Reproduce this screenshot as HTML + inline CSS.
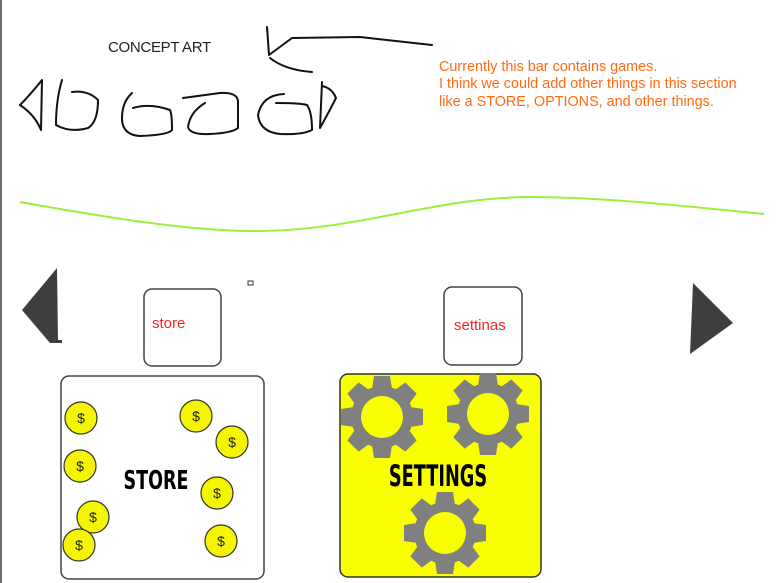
<!DOCTYPE html>
<html><head><meta charset="utf-8"><style>
html,body{margin:0;padding:0;background:#fff;width:782px;height:583px;overflow:hidden}
svg{display:block}
</style></head><body>
<svg width="782" height="583" viewBox="0 0 782 583" xmlns="http://www.w3.org/2000/svg">
<defs>
<g id="gear">
<g fill="#808080">
<circle r="31"/>
<path d="M-8 -41 L8 -41 L10 -28 L-10 -28 Z"/>
<path d="M-8 -41 L8 -41 L10 -28 L-10 -28 Z" transform="rotate(45)"/>
<path d="M-8 -41 L8 -41 L10 -28 L-10 -28 Z" transform="rotate(90)"/>
<path d="M-8 -41 L8 -41 L10 -28 L-10 -28 Z" transform="rotate(135)"/>
<path d="M-8 -41 L8 -41 L10 -28 L-10 -28 Z" transform="rotate(180)"/>
<path d="M-8 -41 L8 -41 L10 -28 L-10 -28 Z" transform="rotate(225)"/>
<path d="M-8 -41 L8 -41 L10 -28 L-10 -28 Z" transform="rotate(270)"/>
<path d="M-8 -41 L8 -41 L10 -28 L-10 -28 Z" transform="rotate(315)"/>
</g>
<circle r="21" fill="#f9ff00"/>
</g>
<g id="coin">
<circle r="16" fill="#f5f500" stroke="#333" stroke-width="1.2"/>
<text y="5" text-anchor="middle" font-family="Liberation Sans, sans-serif" font-size="14" fill="#222">$</text>
</g>
</defs>
<rect x="0" y="0" width="2" height="583" fill="#6c7078"/>
<text x="108" y="52" font-family="Liberation Sans, sans-serif" font-size="15" fill="#222" letter-spacing="-0.3">CONCEPT ART</text>
<g fill="none" stroke="#111" stroke-width="2" stroke-linecap="round" stroke-linejoin="round">
<path d="M267 27 L269 55 L292 38 L360 37 L432 45"/>
<path d="M270 58 Q285 70 312 72"/>
<path d="M42 80 Q30 95 20 105 Q35 115 41 130 L42 80"/>
<path d="M62 80 Q56 100 56 125 Q70 133 88 128 Q98 122 98 100 Q88 90 72 92"/>
<path d="M132 93 Q122 102 122 118 Q122 135 140 136 Q168 135 172 130 Q172 114 170 110 Q150 103 133 108"/>
<path d="M183 98 L220 93 Q238 92 238 102 L238 128 Q232 133 210 134 Q190 135 188 127 Q190 112 205 103"/>
<path d="M284 94 Q262 95 258 115 Q260 132 280 134 Q302 135 312 130 Q312 112 307 105 Q300 103 276 103"/>
<path d="M322 82 L320 128 Q330 110 336 98 Q332 88 322 86"/>
</g>
<text font-family="Liberation Sans, sans-serif" font-size="14.4" fill="#ff6a13">
<tspan x="439" y="71">Currently this bar contains games.</tspan>
<tspan x="439" y="88">I think we could add other things in this section</tspan>
<tspan x="439" y="106">like a STORE, OPTIONS, and other things.</tspan>
</text>
<path d="M20 202 C120 220 200 232 262 231 C360 230 440 196 535 197 C620 198 700 208 764 214" fill="none" stroke="#9bf03a" stroke-width="2"/>
<path d="M57 268 L58 340 L50 343 L22 310 Z" fill="#3e3e3e"/>
<rect x="50" y="340" width="12" height="3" fill="#3e3e3e"/>
<path d="M693 283 L733 323 L690 354 Z" fill="#3e3e3e"/>
<rect x="248" y="281" width="5" height="4" fill="#fff" stroke="#333" stroke-width="1"/>
<rect x="144" y="289" width="77" height="77" rx="8" fill="#fff" stroke="#444" stroke-width="1.5"/>
<text x="152" y="328" font-family="Liberation Sans, sans-serif" font-size="15" fill="#f22">store</text>
<rect x="444" y="287" width="78" height="78" rx="8" fill="#fff" stroke="#444" stroke-width="1.5"/>
<text x="454" y="330" font-family="Liberation Sans, sans-serif" font-size="15" fill="#f22">settinas</text>
<rect x="61" y="376" width="203" height="203" rx="8" fill="#fff" stroke="#444" stroke-width="1.5"/>
<use href="#coin" x="81" y="418"/>
<use href="#coin" x="80" y="466"/>
<use href="#coin" x="93" y="517"/>
<use href="#coin" x="79" y="545"/>
<use href="#coin" x="196" y="416"/>
<use href="#coin" x="232" y="442"/>
<use href="#coin" x="217" y="493"/>
<use href="#coin" x="221" y="541"/>
<text x="156" y="489" text-anchor="middle" font-family="DejaVu Sans Condensed, DejaVu Sans, sans-serif" font-weight="bold" font-size="26" fill="#000" transform="translate(156 0) scale(0.75 1) translate(-156 0)">STORE</text>
<rect x="340" y="374" width="201" height="203" rx="8" fill="#f9ff00" stroke="#333" stroke-width="1.5"/>
<use href="#gear" x="382" y="417"/>
<use href="#gear" x="488" y="414"/>
<use href="#gear" x="445" y="533"/>
<text x="438" y="486" text-anchor="middle" font-family="DejaVu Sans Condensed, DejaVu Sans, sans-serif" font-weight="bold" font-size="29" fill="#000" transform="translate(438 0) scale(0.68 1) translate(-438 0)">SETTINGS</text>
</svg>
</body></html>
